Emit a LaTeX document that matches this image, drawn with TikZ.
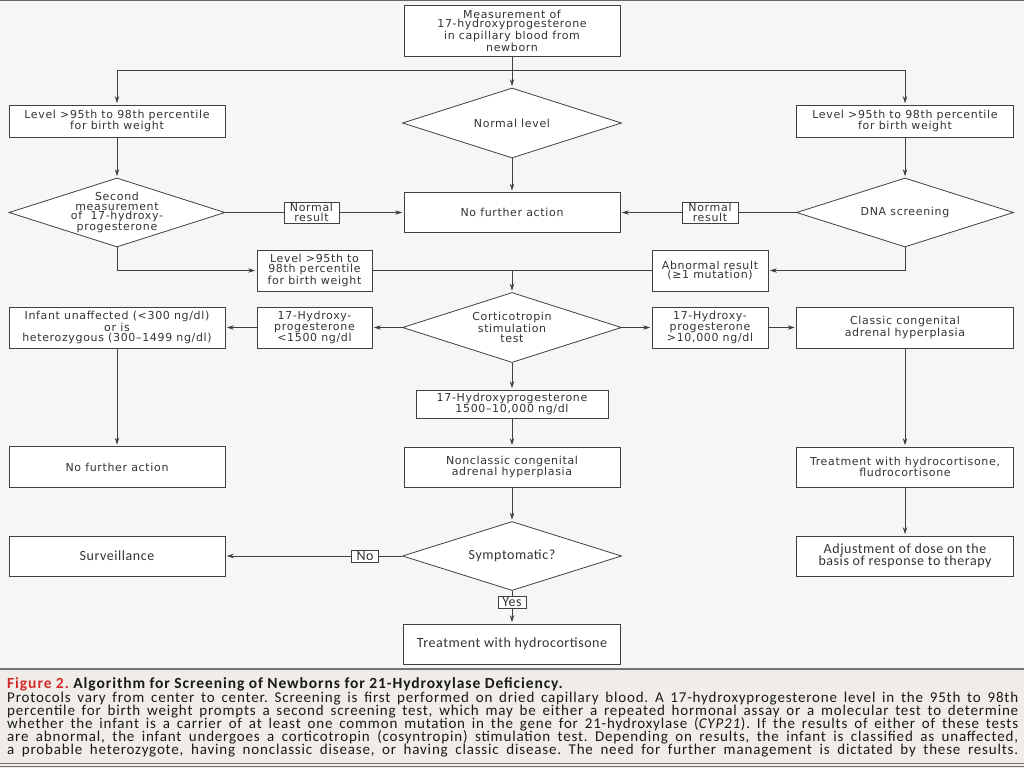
\documentclass[tikz,border=0pt]{standalone}
\usepackage{fontspec}
\usetikzlibrary{shapes.geometric,arrows.meta}
\newfontfamily\dfont[LetterSpace=6]{DejaVu Sans}
\newfontfamily\lfont[LetterSpace=4]{Carlito}
\newfontfamily\capfont[LetterSpace=5.5]{Carlito}
\newfontfamily\captitle[LetterSpace=6]{Carlito}
\frenchspacing
\definecolor{diagbg}{HTML}{F6F6F6}
\definecolor{capbg}{HTML}{F0EDE8}
\definecolor{linec}{HTML}{404040}
\definecolor{txt}{HTML}{333333}
\definecolor{figred}{HTML}{D42A2A}
\tikzset{
 box/.style={draw=linec, fill=white, line width=0.8pt, inner sep=0pt, align=center, text=txt, font=\dfont\fontsize{11}{9.8}\selectfont},
 dia/.style={box, diamond, aspect=3.1},
 lbl/.style={box, line width=0.7pt},
 low/.style={font=\lfont\fontsize{14}{16}\selectfont},
 arr/.style={draw=linec, line width=0.7pt, shorten >=1.5pt, -{Stealth[length=7pt,width=4.5pt]}},
 ln/.style={draw=linec, line width=0.7pt},
 capl/.style={anchor=base west, inner sep=0pt, text=black!90, font=\capfont\frenchspacing\fontsize{15}{14}\selectfont},
}
\begin{document}
\begin{tikzpicture}[x=1pt,y=-1pt]
\useasboundingbox (0,0) rectangle (1024,768);
\fill[diagbg] (0,0) rectangle (1024,668);
\fill[capbg] (0,668) rectangle (1024,768);
\draw[line width=1.5pt, color=black!60] (0,0.75) -- (1024,0.75);
\draw[line width=1.2pt, color=black!55] (0,669) -- (1024,669);
\draw[line width=0.8pt, color=black!55] (0,763) -- (1024,763);
\draw[line width=0.8pt, color=black!55] (0,766) -- (1024,766);

% nodes
\node[box, minimum width=216, minimum height=51] (top) at (512,30.5) {Measurement of\\17-hydroxyprogesterone\\in capillary blood from\\newborn};
\node[box, minimum width=216, minimum height=32] (lvlL) at (117,121) {Level >95th to 98th percentile\\for birth weight};
\node[box, minimum width=217, minimum height=32] (lvlR) at (905,121) {Level >95th to 98th percentile\\for birth weight};
\node[dia, minimum width=219, minimum height=70] (normal) at (512,123) {Normal level};
\node[dia, inner xsep=-4pt, minimum width=216, minimum height=69] (sec) at (117,212.5) {Second\\measurement\\of \ 17-hydroxy-\\progesterone};
\node[dia, minimum width=217, minimum height=69] (dna) at (905,212.5) {DNA screening};
\node[box, minimum width=216, minimum height=40] (nfa) at (512,212.5) {No further action};
\node[lbl, minimum width=55, minimum height=21] (nr1) at (311.5,212.5) {Normal\\result};
\node[lbl, minimum width=56, minimum height=21] (nr2) at (710,212.5) {Normal\\result};
\node[box, minimum width=115, minimum height=41] (lvl2) at (314.5,270.5) {Level >95th to\\98th percentile\\for birth weight};
\node[box, minimum width=116, minimum height=41] (abn) at (710,270.5) {Abnormal result\\(≥1 mutation)};
\node[dia, minimum width=219, minimum height=70] (cort) at (512,327.5) {Corticotropin\\stimulation\\test};
\node[box, minimum width=115, minimum height=41] (lt) at (314.5,327.5) {17-Hydroxy-\\progesterone\\<1500 ng/dl};
\node[box, minimum width=216, minimum height=41] (unaff) at (117,327.5) {Infant unaffected (<300 ng/dl)\\or is\\heterozygous (300–1499 ng/dl)};
\node[box, minimum width=116, minimum height=41] (gt) at (710,327.5) {17-Hydroxy-\\progesterone\\>10,000 ng/dl};
\node[box, minimum width=217, minimum height=41] (classic) at (905,327.5) {Classic congenital\\adrenal hyperplasia};
\node[box, minimum width=192, minimum height=28] (mid) at (512,404) {17-Hydroxyprogesterone\\1500–10,000 ng/dl};
\node[box, minimum width=216, minimum height=40] (nonclassic) at (512,467) {Nonclassic congenital\\adrenal hyperplasia};
\node[box, minimum width=216, minimum height=41] (nfa2) at (117,467) {No further action};
\node[box, minimum width=217, minimum height=40] (treatHF) at (905,467) {Treatment with hydrocortisone,\\fludrocortisone};
\node[dia, low, minimum width=219, minimum height=69] (sympt) at (512,556) {Symptomatic?};
\node[box, low, minimum width=216, minimum height=40] (surv) at (117,556) {Surveillance};
\node[lbl, low, minimum width=27, minimum height=12] (no) at (365,556) {No};
\node[lbl, low, minimum width=28, minimum height=12] (yes) at (512,602.5) {Yes};
\node[box, low, minimum width=217, minimum height=40] (treatH) at (512,644) {Treatment with hydrocortisone};
\node[box, low, font=\lfont\fontsize{14}{12.5}\selectfont, minimum width=217, minimum height=40] (adjust) at (905,556) {Adjustment of dose on the\\basis of response to therapy};

% connectors
\coordinate (jt) at (512,70);
\coordinate (jc) at (512,270.5);
\draw[arr] (top.south) -- (normal.north);
\draw[arr] (jt) -| (lvlL.north);
\draw[arr] (jt) -| (lvlR.north);
\draw[arr] (lvlL) -- (sec);
\draw[arr] (lvlR) -- (dna);
\draw[arr] (normal) -- (nfa);
\draw[ln] (sec.east) -- (nr1.west);
\draw[arr] (nr1.east) -- (nfa.west);
\draw[ln] (dna.west) -- (nr2.east);
\draw[arr] (nr2.west) -- (nfa.east);
\draw[arr] (sec.south) |- (lvl2.west);
\draw[arr] (dna.south) |- (abn.east);
\draw[ln] (lvl2.east) -- (abn.west);
\draw[arr] (jc) -- (cort.north);
\draw[arr] (cort.west) -- (lt.east);
\draw[arr] (lt.west) -- (unaff.east);
\draw[arr] (cort.east) -- (gt.west);
\draw[arr] (gt.east) -- (classic.west);
\draw[arr] (cort.south) -- (mid.north);
\draw[arr] (mid.south) -- (nonclassic.north);
\draw[arr] (nonclassic.south) -- (sympt.north);
\draw[arr] (unaff.south) -- (nfa2.north);
\draw[arr] (classic.south) -- (treatHF.north);
\draw[arr] (treatHF.south) -- (adjust.north);
\draw[ln] (sympt.west) -- (no.east);
\draw[arr] (no.west) -- (surv.east);
\draw[ln] (sympt.south) -- (yes.north);
\draw[arr] (yes.south) -- (treatH.north);

% caption
\node[capl, font=\captitle\bfseries\fontsize{15.5}{14}\selectfont] (title) at (7,688.5) {{\color{figred}Figure 2.} Algorithm for Screening of Newborns for 21-Hydroxylase Deficiency.};
\node[capl] (c1) at (7,702.5) {\makebox[1011pt][s]{Protocols vary from center to center. Screening is first performed on dried capillary blood. A 17-hydroxyprogesterone level in the 95th to 98th}};
\node[capl] (c2) at (7,715.5) {\makebox[1011pt][s]{percentile for birth weight prompts a second screening test, which may be either a repeated hormonal assay or a molecular test to determine}};
\node[capl] (c3) at (7,728.5) {\makebox[1011pt][s]{whether the infant is a carrier of at least one common mutation in the gene for 21-hydroxylase (\textit{CYP21}). If the results of either of these tests}};
\node[capl] (c4) at (7,741.5) {\makebox[1011pt][s]{are abnormal, the infant undergoes a corticotropin (cosyntropin) stimulation test. Depending on results, the infant is classified as unaffected,}};
\node[capl] (c5) at (7,754.5) {\makebox[1011pt][s]{a probable heterozygote, having nonclassic disease, or having classic disease. The need for further management is dictated by these results.}};
\end{tikzpicture}
\end{document}
